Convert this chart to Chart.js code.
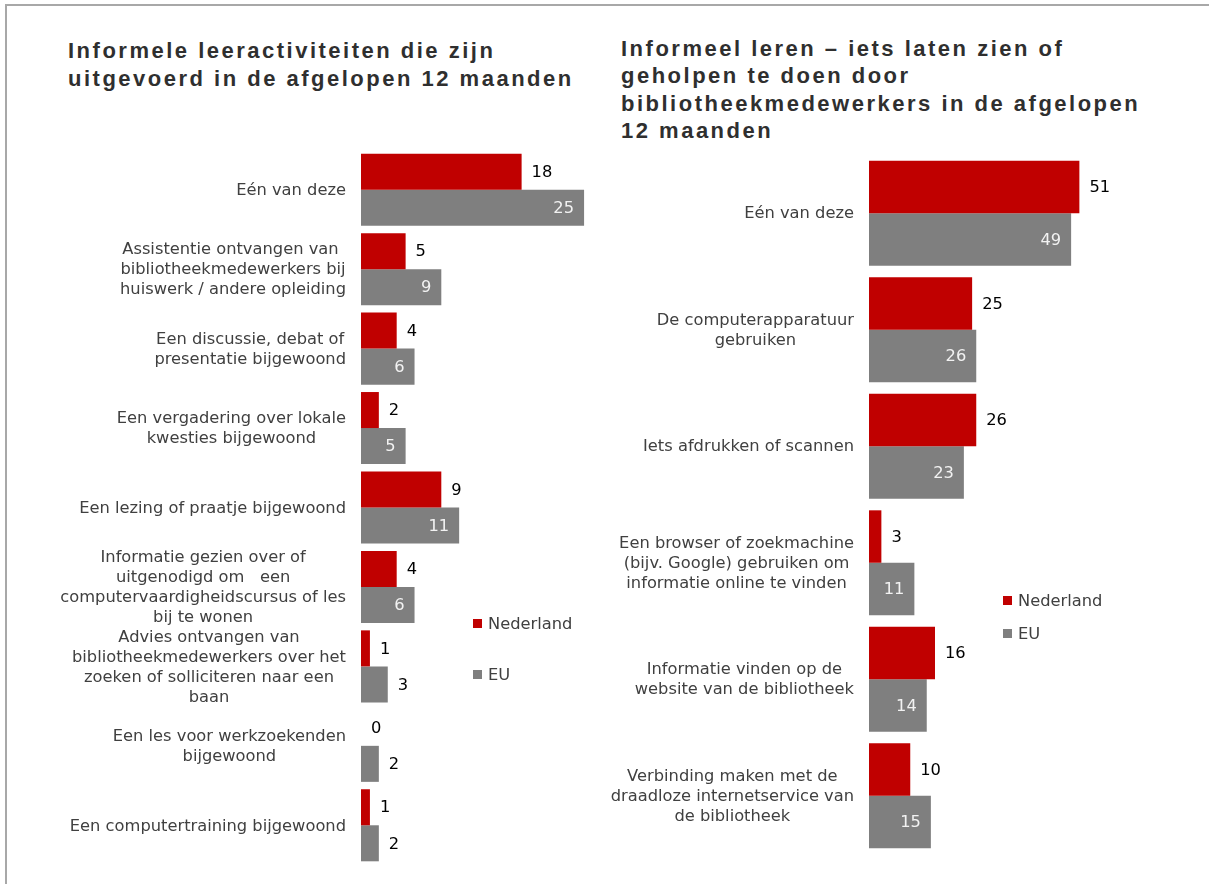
<!DOCTYPE html>
<html>
<head>
<meta charset="utf-8">
<script src="https://cdn.jsdelivr.net/npm/chart.js@4.4.1/dist/chart.umd.min.js"></script>
<style>
html,body{margin:0;padding:0;background:#fff;}
body{width:1209px;height:884px;position:relative;overflow:hidden;font-family:"DejaVu Sans",sans-serif;}
.line{position:absolute;background:#a8a8a8;}
.title{position:absolute;font-family:"Liberation Sans",Arial,sans-serif;font-weight:bold;font-size:22px;letter-spacing:2.5px;color:#2f2f2f;white-space:nowrap;}
canvas{position:absolute;top:0;}
.leg{position:absolute;display:flex;align-items:center;height:20px;font-size:16.3px;color:#404040;white-space:nowrap;}
.leg .sw{width:9px;height:9px;margin-right:6px;}
</style>
</head>
<body>
<div class="line" style="left:5px;top:4px;width:1204px;height:2px;"></div>
<div class="line" style="left:5px;top:4px;width:2px;height:880px;"></div>
<div class="title" id="t1" style="left:68px;top:37px;line-height:28px;"></div>
<div class="title" id="t2" style="left:621px;top:35px;line-height:27.3px;"></div>
<canvas id="c1" width="600" height="884" style="left:0px;width:600px;height:884px;"></canvas>
<canvas id="c2" width="609" height="884" style="left:600px;width:609px;height:884px;"></canvas>
<div id="legends"></div>
<script>
// ---- data ----
const seriesNames = ["Nederland", "EU"];

const leftTitle = ["Informele leeractiviteiten die zijn", "uitgevoerd in de afgelopen 12 maanden"];
const leftCategories = [
  ["Eén van deze"],
  ["Assistentie ontvangen van ", "bibliotheekmedewerkers bij", "huiswerk / andere opleiding"],
  ["Een discussie, debat of", "presentatie bijgewoond"],
  ["Een vergadering over lokale", "kwesties bijgewoond"],
  ["Een lezing of praatje bijgewoond"],
  ["Informatie gezien over of", "uitgenodigd om   een", "computervaardigheidscursus of les", "bij te wonen"],
  ["Advies ontvangen van", "bibliotheekmedewerkers over het", "zoeken of solliciteren naar een", "baan"],
  ["Een les voor werkzoekenden", "bijgewoond"],
  ["Een computertraining bijgewoond"]
];
const leftNederland = [18, 5, 4, 2, 9, 4, 1, 0, 1];
const leftEU = [25, 9, 6, 5, 11, 6, 3, 2, 2];

const rightTitle = ["Informeel leren \u2013 iets laten zien of", "geholpen te doen door", "bibliotheekmedewerkers in de afgelopen", "12 maanden"];
const rightCategories = [
  ["Eén van deze"],
  ["De computerapparatuur", "gebruiken"],
  ["Iets afdrukken of scannen"],
  ["Een browser of zoekmachine", "(bijv. Google) gebruiken om", "informatie online te vinden"],
  ["Informatie vinden op de", "website van de bibliotheek"],
  ["Verbinding maken met de", "draadloze internetservice van", "de bibliotheek"]
];
const rightNederland = [51, 25, 26, 3, 16, 10];
const rightEU = [49, 26, 23, 11, 14, 15];

// ---- styles ----
const RED = "#C00000";
const GRAY = "#7F7F7F";
const FONT = "DejaVu Sans";
const FSIZE = 16.3;

document.getElementById("t1").innerHTML = leftTitle.join("<br>");
document.getElementById("t2").innerHTML = rightTitle.join("<br>");

// category labels: block right-aligned to the axis, lines centred within the block
const blockLabels = {
  id: "blockLabels",
  afterDraw(chart) {
    const s = chart.scales.y;
    const ctx = chart.ctx;
    ctx.save();
    ctx.font = FSIZE + "px '" + FONT + "'";
    ctx.fillStyle = "#404040";
    ctx.textAlign = "center";
    ctx.textBaseline = "middle";
    const right = chart.chartArea.left - 15;
    const lh = 20;
    chart.data.labels.forEach((lab, i) => {
      const lines = Array.isArray(lab) ? lab : [lab];
      const w = Math.max(...lines.map(l => ctx.measureText(l).width));
      const cx = right - w / 2;
      const cy = s.getPixelForTick(i);
      lines.forEach((l, k) => ctx.fillText(l, cx, cy + (k - (lines.length - 1) / 2) * lh + 1));
    });
    ctx.restore();
  }
};

const valueLabels = {
  id: "valueLabels",
  afterDatasetsDraw(chart) {
    const ctx = chart.ctx;
    ctx.save();
    ctx.font = FSIZE + "px '" + FONT + "'";
    ctx.textBaseline = "middle";
    chart.data.datasets.forEach((ds, di) => {
      const meta = chart.getDatasetMeta(di);
      meta.data.forEach((bar, i) => {
        const txt = String(ds.data[i]);
        const w = ctx.measureText(txt).width;
        const len = bar.x - bar.base;
        if (ds.labelInside && len >= w + 20) {
          ctx.fillStyle = "#f2f2f2";
          ctx.textAlign = "right";
          ctx.fillText(txt, bar.x - 10, bar.y + 1);
        } else {
          ctx.fillStyle = "#000000";
          ctx.textAlign = "left";
          ctx.fillText(txt, bar.x + 10, bar.y + 1);
        }
      });
    });
    ctx.restore();
  }
};

function makeChart(id, cats, nl, eu, xmax, yWidth, pad, catPct) {
  return new Chart(document.getElementById(id), {
    type: "bar",
    data: {
      labels: cats,
      datasets: [
        { label: seriesNames[0], data: nl, backgroundColor: RED, labelInside: false },
        { label: seriesNames[1], data: eu, backgroundColor: GRAY, labelInside: true }
      ]
    },
    options: {
      indexAxis: "y",
      responsive: false,
      animation: false,
      layout: { padding: pad },
      datasets: { bar: { categoryPercentage: catPct, barPercentage: 1, borderWidth: 0 } },
      plugins: { legend: { display: false }, tooltip: { enabled: false } },
      scales: {
        x: { display: false, min: 0, max: xmax },
        y: {
          grid: { display: false, drawTicks: false },
          border: { display: false },
          ticks: { display: false, autoSkip: false },
          afterFit(s) { s.width = yWidth; }
        }
      }
    },
    plugins: [blockLabels, valueLabels]
  });
}

makeChart("c1", leftCategories, leftNederland, leftEU, 26, 361, { top: 150, bottom: 19, left: 0, right: 7 }, 0.907);
makeChart("c2", rightCategories, rightNederland, rightEU, 80, 269, { top: 155, bottom: 30, left: 0, right: 10 }, 0.9);

// legends
const legendSpots = [
  { x: 473, ys: [613, 664] },
  { x: 1003, ys: [590, 623] }
];
const colors = [RED, GRAY];
const lg = document.getElementById("legends");
legendSpots.forEach(spot => {
  seriesNames.forEach((name, k) => {
    const d = document.createElement("div");
    d.className = "leg";
    d.style.left = spot.x + "px";
    d.style.top = spot.ys[k] + "px";
    d.innerHTML = '<span class="sw" style="background:' + colors[k] + '"></span>' + name;
    lg.appendChild(d);
  });
});
</script>
</body>
</html>
